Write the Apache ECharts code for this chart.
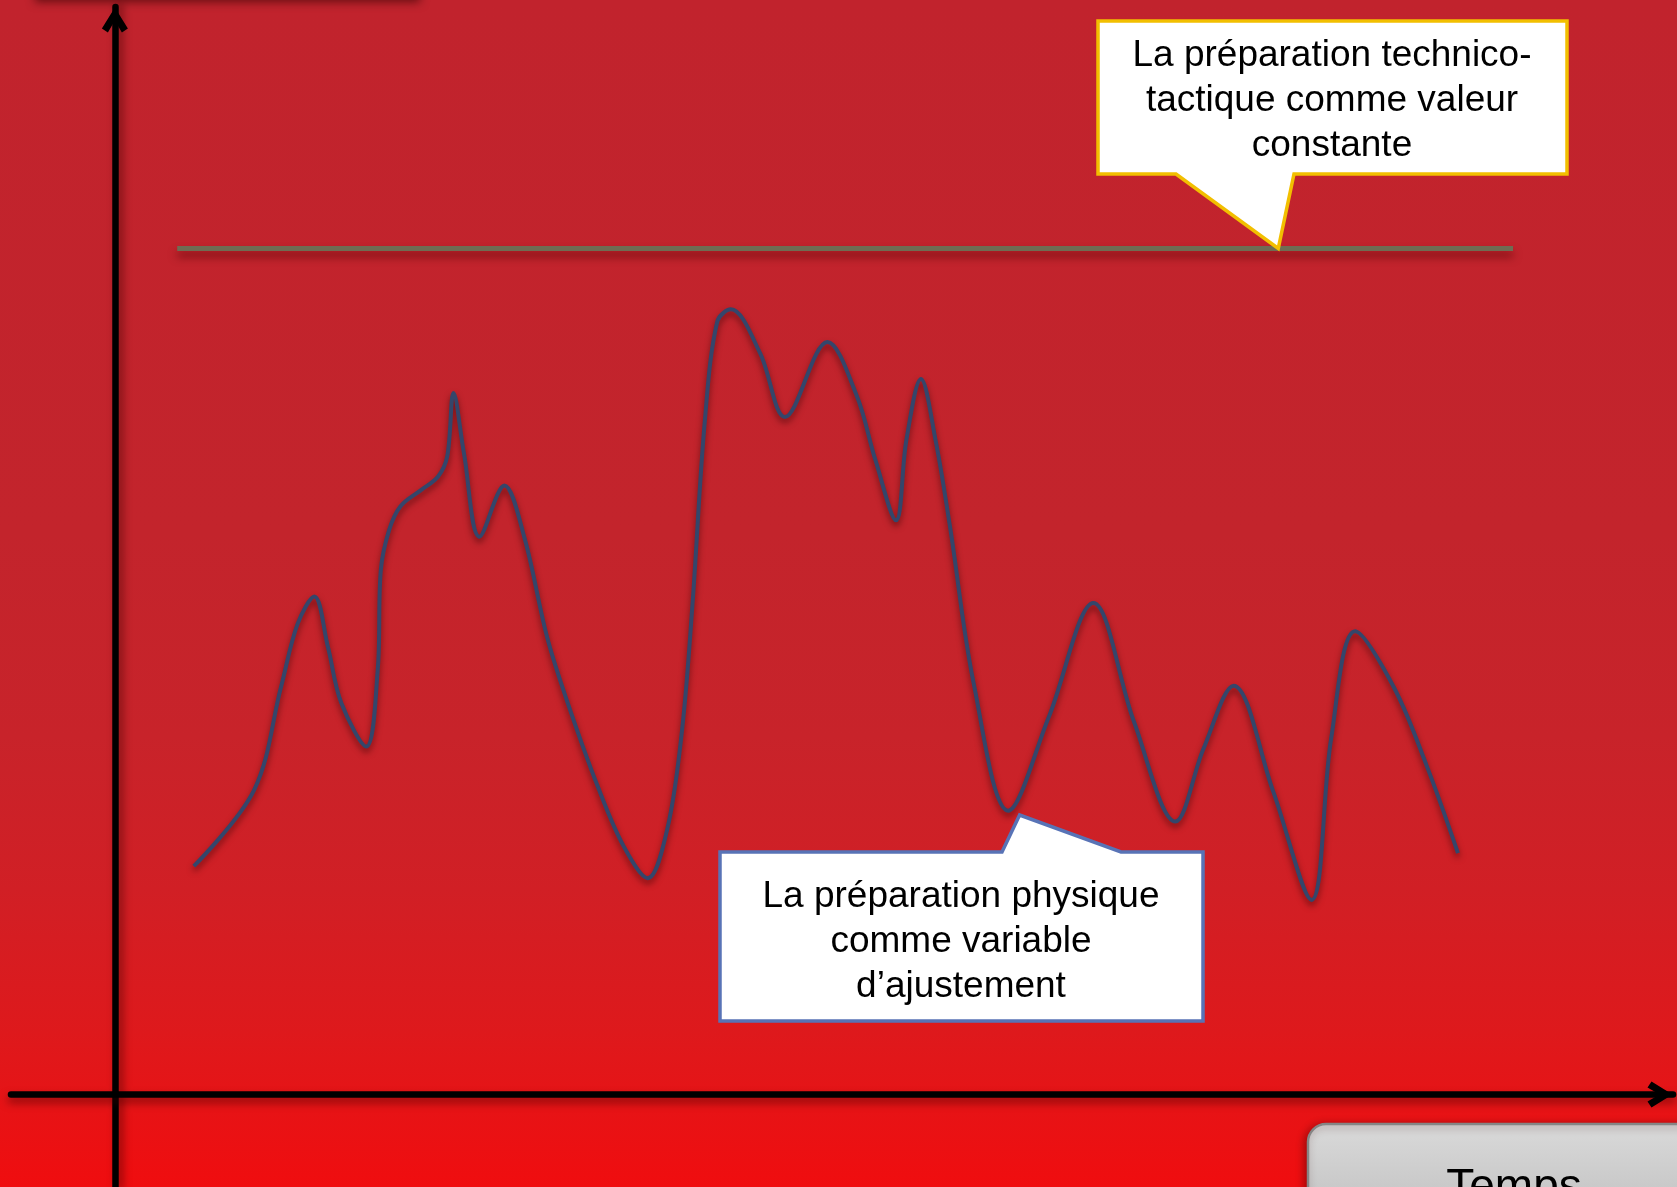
<!DOCTYPE html>
<html>
<head>
<meta charset="utf-8">
<script src="https://cdn.jsdelivr.net/npm/echarts/dist/echarts.min.js"></script>
<style>
  html, body { margin: 0; padding: 0; overflow: hidden; }
  #chart {
    width: 1677px; height: 1187px;
    background: linear-gradient(to bottom, #c1232d 0%, #c3242c 45%, #c8232a 62%, #d11f25 75%, #de191c 87%, #f00d0f 100%);
  }
</style>
</head>
<body>
<div id="chart"></div>
<script>
// Axis extents (time on x, level on y); the axes cross at 0
const timeRange = [-10, 150];
const levelRange = [-8.5, 100];

// Technico-tactical preparation: constant level
const techLevel = 77.8;
const techSpan = [6.0, 134.6];

// Physical preparation: [time, level]
const physical = [
  [7.6, 21.0], [13.4, 28.0], [16.0, 37.5], [17.6, 43.3], [19.2, 45.8], [20.5, 41.2],
  [21.8, 36.0], [24.2, 32.0], [25.3, 39.0], [25.6, 48.2], [26.4, 51.9], [27.5, 54.1],
  [29.5, 55.6], [31.1, 56.8], [32.0, 58.7], [32.6, 64.5], [33.6, 59.0], [35.1, 51.3],
  [37.5, 56.0], [39.4, 51.3], [41.6, 42.1], [43.6, 36.0], [46.5, 28.3], [49.0, 22.8],
  [51.3, 19.9], [53.2, 24.5], [54.6, 33.5], [55.6, 45.0], [56.8, 62.0], [58.0, 71.1],
  [59.3, 72.2], [62.1, 68.2], [64.5, 62.3], [68.6, 69.2], [71.4, 64.3], [73.2, 58.4],
  [75.2, 52.8], [76.2, 60.2], [77.6, 65.8], [79.0, 60.2], [80.4, 52.2], [82.7, 37.7],
  [86.0, 26.1], [89.9, 34.7], [94.2, 45.2], [98.1, 34.3], [102.1, 25.1], [104.8, 31.8],
  [107.7, 37.6], [111.5, 27.9], [115.2, 17.9], [117.1, 32.8], [119.4, 42.6], [123.1, 37.5],
  [126.3, 30.2], [129.3, 22.2]
];

// Callout texts and the points they refer to
const techLabel = ['La préparation technico-', 'tactique comme valeur', 'constante'];
const techPointer = [112.0, 77.8];
const physLabel = ['La préparation physique', 'comme variable', 'd’ajustement'];
const physPointer = [87.1, 25.7];
const timeLabel = 'Temps';

const chart = echarts.init(document.getElementById('chart'), null, { renderer: 'canvas' });

// open chevron arrow head, pointing up in its own frame
const chevron = 'path://M13,0 L26,21 L20,25 L13,13 L6,25 L0,21 Z';

function handAxis(shadowX, shadowY) {
  return {
    show: true,
    onZero: true,
    symbol: ['none', chevron],
    symbolSize: [26, 27],
    symbolOffset: [0, -13],
    lineStyle: {
      color: '#000', width: 6.5, cap: 'round',
      shadowColor: 'rgba(60,0,0,0.55)', shadowBlur: 8,
      shadowOffsetX: shadowX, shadowOffsetY: shadowY
    }
  };
}

chart.setOption({
  backgroundColor: 'transparent',
  animation: false,
  grid: { left: 11, right: 4, top: 7, bottom: 0, containLabel: false },
  xAxis: {
    type: 'value', min: timeRange[0], max: timeRange[1],
    axisLine: handAxis(0, 5),
    axisTick: { show: false }, axisLabel: { show: false }, splitLine: { show: false }
  },
  yAxis: {
    type: 'value', min: levelRange[0], max: levelRange[1],
    axisLine: handAxis(4, 0),
    axisTick: { show: false }, axisLabel: { show: false }, splitLine: { show: false }
  },
  series: [
    {
      name: 'Préparation technico-tactique',
      type: 'line',
      data: [[techSpan[0], techLevel], [techSpan[1], techLevel]],
      symbol: 'none',
      lineStyle: {
        color: '#6f6c53', width: 5,
        shadowColor: 'rgba(70,0,0,0.6)', shadowBlur: 8, shadowOffsetY: 6
      },
      z: 3
    },
    {
      name: 'Préparation physique',
      type: 'line',
      data: physical,
      symbol: 'none',
      smooth: 0.35,
      lineStyle: {
        color: '#34466b', width: 4,
        shadowColor: 'rgba(40,0,0,0.55)', shadowBlur: 6, shadowOffsetY: 4
      },
      z: 4
    }
  ]
});

const font37 = '37px "Liberation Sans", Arial, sans-serif';
const t1 = chart.convertToPixel({ gridIndex: 0 }, techPointer);
const t2 = chart.convertToPixel({ gridIndex: 0 }, physPointer);

function textBlock(x, y, lines, font) {
  return {
    type: 'text', x: x, y: y, z: 20,
    style: {
      text: lines.join('\n'), font: font, fill: '#000',
      textAlign: 'center', align: 'center',
      textVerticalAlign: 'middle', verticalAlign: 'middle',
      lineHeight: 45
    }
  };
}

chart.setOption({
  graphic: [
    // edge of a shape running off the top of the page
    {
      type: 'rect', z: 1,
      shape: { x: 35, y: -30, width: 385, height: 30 },
      style: { fill: '#b81f29', shadowColor: 'rgba(40,0,0,0.6)', shadowBlur: 10, shadowOffsetY: 2 }
    },
    {
      type: 'polygon', z: 19,
      shape: { points: [[1098, 21], [1567, 21], [1567, 174], [1294, 174], t1, [1176, 174], [1098, 174]] },
      style: { fill: '#ffffff', stroke: '#f2bf00', lineWidth: 3.5, lineJoin: 'miter' }
    },
    textBlock(1332, 100.5, techLabel, font37),
    {
      type: 'polygon', z: 19,
      shape: { points: [[720, 852], [1002, 852], t2, [1121, 852], [1203, 852], [1203, 1021], [720, 1021]] },
      style: { fill: '#ffffff', stroke: '#5873b6', lineWidth: 3.5, lineJoin: 'miter' }
    },
    textBlock(961, 942, physLabel, font37),
    {
      type: 'rect', z: 19,
      shape: { x: 1308, y: 1124, width: 420, height: 150, r: 18 },
      style: {
        fill: new echarts.graphic.LinearGradient(0, 0, 0, 1, [
          { offset: 0, color: '#dadada' }, { offset: 0.5, color: '#c6c6c6' }, { offset: 1, color: '#b5b5b5' }
        ]),
        stroke: '#858585', lineWidth: 2.5,
        shadowColor: 'rgba(60,0,0,0.45)', shadowBlur: 8, shadowOffsetX: -2, shadowOffsetY: 2
      }
    },
    {
      type: 'text', x: 1514, y: 1188, z: 20,
      style: {
        text: timeLabel, font: '46px "Liberation Sans", Arial, sans-serif', fill: '#000',
        textAlign: 'center', align: 'center', textVerticalAlign: 'middle', verticalAlign: 'middle'
      }
    }
  ]
});
</script>
</body>
</html>
